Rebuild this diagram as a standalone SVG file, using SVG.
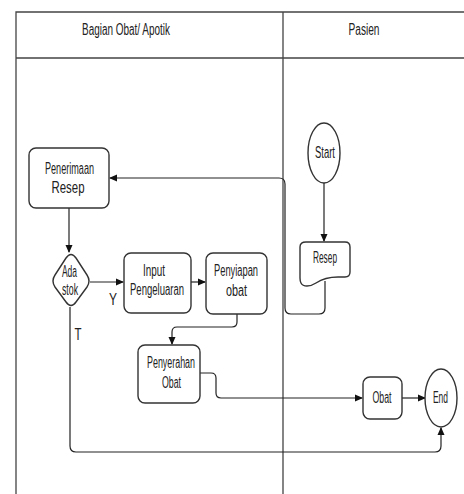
<svg xmlns="http://www.w3.org/2000/svg" width="464" height="494" viewBox="0 0 464 494">
<defs>
<style>
.lane{fill:none;stroke:#444;stroke-width:1.3}
.box{fill:#fff;stroke:#333;stroke-width:1.4}
.con{fill:none;stroke:#222;stroke-width:1.2}
text{font-family:"Liberation Sans",Arial,sans-serif;font-size:16px;fill:#222;text-anchor:middle}
</style>
<marker id="arr" markerWidth="8" markerHeight="8" refX="7" refY="4" orient="auto" markerUnits="userSpaceOnUse">
<path d="M0,0.5 L8,4 L0,7.5 Z" fill="#111"/>
</marker>
</defs>
<rect width="464" height="494" fill="#fff"/>
<g id="lanes">
<path class="lane" d="M16,494 V12 H464 M16,58 H464 M283,12 V494"/>
<text x="126" y="35" textLength="88" lengthAdjust="spacingAndGlyphs">Bagian Obat/ Apotik</text>
<text x="364" y="35" textLength="31" lengthAdjust="spacingAndGlyphs">Pasien</text>
</g>
<g id="connectors">
<path class="con" d="M69,208 V252" marker-end="url(#arr)"/>
<path class="con" d="M90,282 H123" marker-end="url(#arr)"/>
<path class="con" d="M191,282 H205" marker-end="url(#arr)"/>
<path class="con" d="M237,314 V322 Q237,327 232,327 H177 Q172,327 172,332 V344" marker-end="url(#arr)"/>
<path class="con" d="M200,373 H211 Q216,373 216,378 V393 Q216,398 221,398 H362" marker-end="url(#arr)"/>
<path class="con" d="M402,398 H425" marker-end="url(#arr)"/>
<path class="con" d="M70,307 V446 Q70,452 76,452 H435 Q441,452 441,446 V428" marker-end="url(#arr)"/>
<path class="con" d="M324,183 V241" marker-end="url(#arr)"/>
<path class="con" d="M325,281 V308 Q325,314 319,314 H291 Q285,314 285,308 V184 Q285,178 279,178 H110" marker-end="url(#arr)"/>
<text x="113" y="305" textLength="8" lengthAdjust="spacingAndGlyphs">Y</text>
<text x="78" y="340" textLength="7" lengthAdjust="spacingAndGlyphs">T</text>
</g>
<g id="penerimaan">
<rect class="box" x="29" y="148" width="80" height="60" rx="7"/>
<text x="69.5" y="174" textLength="49" lengthAdjust="spacingAndGlyphs">Penerimaan</text>
<text x="68" y="193" textLength="33" lengthAdjust="spacingAndGlyphs">Resep</text>
</g>
<g id="adastok">
<path class="box" d="M66,258 Q71,251 76,258 L87,275 Q91,281 87,287 L76,302 Q71,309 66,302 L55,287 Q51,281 55,275 Z"/>
<text x="69.5" y="277" textLength="15" lengthAdjust="spacingAndGlyphs">Ada</text>
<text x="70" y="295" textLength="16" lengthAdjust="spacingAndGlyphs">stok</text>
</g>
<g id="input">
<rect class="box" x="124" y="253" width="67" height="60" rx="7"/>
<text x="154" y="276" textLength="22" lengthAdjust="spacingAndGlyphs">Input</text>
<text x="157" y="295" textLength="54" lengthAdjust="spacingAndGlyphs">Pengeluaran</text>
</g>
<g id="penyiapan">
<rect class="box" x="206" y="253" width="61" height="61" rx="7"/>
<text x="236" y="276" textLength="44" lengthAdjust="spacingAndGlyphs">Penyiapan</text>
<text x="236.5" y="296" textLength="21" lengthAdjust="spacingAndGlyphs">obat</text>
</g>
<g id="penyerahan">
<rect class="box" x="138" y="345" width="62" height="58" rx="7"/>
<text x="171" y="368" textLength="48" lengthAdjust="spacingAndGlyphs">Penyerahan</text>
<text x="171.5" y="388" textLength="19" lengthAdjust="spacingAndGlyphs">Obat</text>
</g>
<g id="start">
<ellipse class="box" cx="324" cy="153" rx="16" ry="30"/>
<text x="325" y="158" textLength="20" lengthAdjust="spacingAndGlyphs">Start</text>
</g>
<g id="resep">
<path class="box" d="M306,242 H345 Q350,242 350,247 V272 Q350,277 345,277 H338 C328,277 322,279 316,283 C310,287 303,287 301,283 Q300,281 300,278 V247 Q300,242 306,242 Z"/>
<text x="325" y="263" textLength="24" lengthAdjust="spacingAndGlyphs">Resep</text>
</g>
<g id="obat">
<rect class="box" x="363" y="377" width="39" height="42" rx="7"/>
<text x="382" y="403" textLength="19" lengthAdjust="spacingAndGlyphs">Obat</text>
</g>
<g id="end">
<ellipse class="box" cx="441" cy="398" rx="16" ry="29"/>
<text x="440.5" y="403" textLength="15" lengthAdjust="spacingAndGlyphs">End</text>
</g>
</svg>
